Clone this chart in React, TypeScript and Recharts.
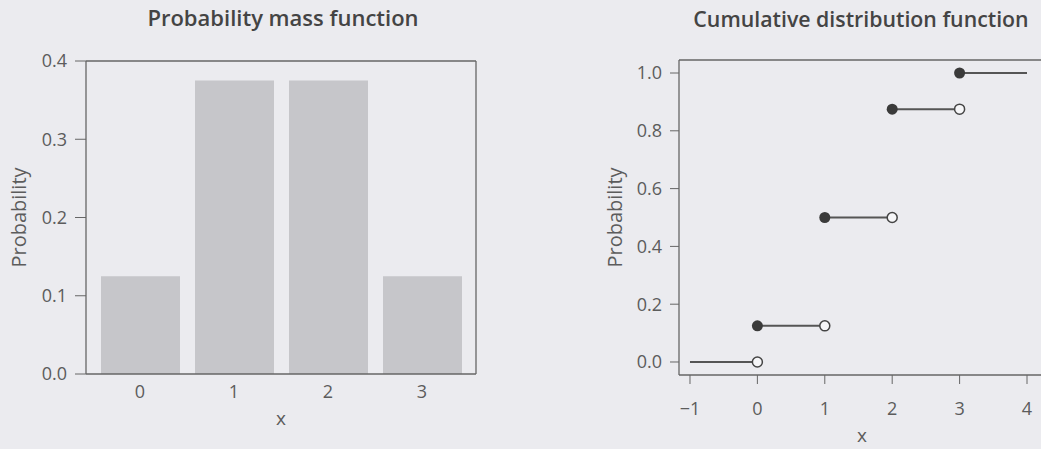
import React from 'react';
import { BarChart, Bar, XAxis, YAxis, ComposedChart, Line, Scatter, CartesianGrid } from 'recharts';

// probability mass function
const outcomes = ['0', '1', '2', '3'];
const pmf = [0.125, 0.375, 0.375, 0.125];
const pmfTicks = [0, 0.1, 0.2, 0.3, 0.4];

// cumulative distribution function (step edges + level of each step)
const stepEdges = [-1, 0, 1, 2, 3, 4];
const cdfLevels = [0, 0.125, 0.5, 0.875, 1.0];
const cdfXTicks = [-1, 0, 1, 2, 3, 4];
const cdfYTicks = [0, 0.2, 0.4, 0.6, 0.8, 1.0];

const pmfData = outcomes.map((name, i) => ({ name, p: pmf[i] }));
const segments = cdfLevels.map((y, i) => [
    { x: stepEdges[i], y },
    { x: stepEdges[i + 1], y },
]);
const closedPts = cdfLevels.slice(1).map((y, i) => ({ x: stepEdges[i + 1], y }));
const openPts = cdfLevels.slice(0, -1).map((y, i) => ({ x: stepEdges[i + 1], y }));

const FONT = '"Open Sans", sans-serif';
const AXIS = '#666';
const TEXT = '#5c5c5c';
const BG = '#ebebef';

const tickStyle = { fontSize: 18, fill: TEXT, fontFamily: FONT };
const fmt = (v: number) => v.toFixed(1);

// frame lines (top / right edge of plot area) drawn through the grid
const topEdge = ({ offset }: any) => [offset.top];
const rightEdge = ({ offset }: any) => [offset.left + offset.width];

function ClosedDot(props: any) {
    return <circle cx={props.cx} cy={props.cy} r={5.5} fill="#3a3a3a" />;
}
function OpenDot(props: any) {
    return <circle cx={props.cx} cy={props.cy} r={5} fill="#f6f6f8" stroke="#444" strokeWidth={1.5} />;
}

export default function App() {
    return (
        <div style={{ position: 'absolute', left: 0, top: 0, width: 1041, height: 449, background: BG, overflow: 'hidden', fontFamily: FONT }}>
            <svg width={1041} height={449} style={{ position: 'absolute', left: 0, top: 0 }}>
                <text x={283} y={26} textAnchor="middle" fontSize={22} fontWeight={600} fill="#444" fontFamily={FONT}>
                    Probability mass function
                </text>
                <text x={861} y={27} textAnchor="middle" fontSize={21.3} fontWeight={600} fill="#444" fontFamily={FONT}>
                    Cumulative distribution function
                </text>
            </svg>

            <div style={{ position: 'absolute', left: 0, top: 0 }}>
                <BarChart width={500} height={449} data={pmfData} margin={{ top: 61, right: 24, bottom: 0, left: 0 }}>
                    <CartesianGrid
                        stroke={AXIS}
                        strokeWidth={1.3}
                        horizontalCoordinatesGenerator={topEdge}
                        verticalCoordinatesGenerator={rightEdge}
                    />
                    <XAxis
                        dataKey="name"
                        height={75}
                        padding={{ left: 7, right: 7 }}
                        tickLine={false}
                        tickSize={6}
                        tickMargin={5}
                        axisLine={{ stroke: AXIS, strokeWidth: 1.3 }}
                        tick={tickStyle}
                        label={{ value: 'x', position: 'insideBottom', offset: 24, style: { fontSize: 19, fill: TEXT, fontFamily: FONT } }}
                    />
                    <YAxis
                        width={86}
                        domain={[0, 0.4]}
                        ticks={pmfTicks}
                        tickFormatter={fmt}
                        tickSize={11}
                        tickMargin={8}
                        tickLine={{ stroke: AXIS }}
                        axisLine={{ stroke: AXIS, strokeWidth: 1.3 }}
                        tick={tickStyle}
                        label={{ value: 'Probability', angle: -90, position: 'insideLeft', offset: 19, style: { textAnchor: 'middle', fontSize: 20, fill: TEXT, fontFamily: FONT } }}
                    />
                    <Bar dataKey="p" fill="#c6c6ca" barSize={79} isAnimationActive={false} />
                </BarChart>
            </div>

            <div style={{ position: 'absolute', left: 580, top: 0 }}>
                <ComposedChart width={470} height={449} margin={{ top: 60, right: 5, bottom: 0, left: 0 }}>
                    <CartesianGrid stroke={AXIS} strokeWidth={1.3} vertical={false} horizontalCoordinatesGenerator={topEdge} />
                    <XAxis
                        dataKey="x"
                        type="number"
                        domain={[-1.163, 4.267]}
                        allowDataOverflow
                        ticks={cdfXTicks}
                        height={74}
                        tickSize={9}
                        tickMargin={18}
                        tickLine={{ stroke: AXIS }}
                        axisLine={{ stroke: AXIS, strokeWidth: 1.3 }}
                        tick={tickStyle}
                        tickFormatter={(v: number) => (v < 0 ? `\u2212${Math.abs(v)}` : `${v}`)}
                        label={{ value: 'x', position: 'insideBottom', offset: 7, style: { fontSize: 19, fill: TEXT, fontFamily: FONT } }}
                    />
                    <YAxis
                        dataKey="y"
                        type="number"
                        width={99}
                        domain={[-0.045, 1.045]}
                        allowDataOverflow
                        ticks={cdfYTicks}
                        tickFormatter={fmt}
                        tickSize={9}
                        tickMargin={8}
                        tickLine={{ stroke: AXIS }}
                        axisLine={{ stroke: AXIS, strokeWidth: 1.3 }}
                        tick={tickStyle}
                        label={{ value: 'Probability', angle: -90, position: 'insideLeft', offset: 35, style: { textAnchor: 'middle', fontSize: 20, fill: TEXT, fontFamily: FONT } }}
                    />
                    {segments.map((seg, i) => (
                        <Line key={`seg-${i}`} data={seg} dataKey="y" stroke="#555" strokeWidth={2} dot={false} isAnimationActive={false} />
                    ))}
                    <Scatter data={closedPts} dataKey="y" shape={ClosedDot} isAnimationActive={false} />
                    <Scatter data={openPts} dataKey="y" shape={OpenDot} isAnimationActive={false} />
                </ComposedChart>
            </div>
        </div>
    );
}
